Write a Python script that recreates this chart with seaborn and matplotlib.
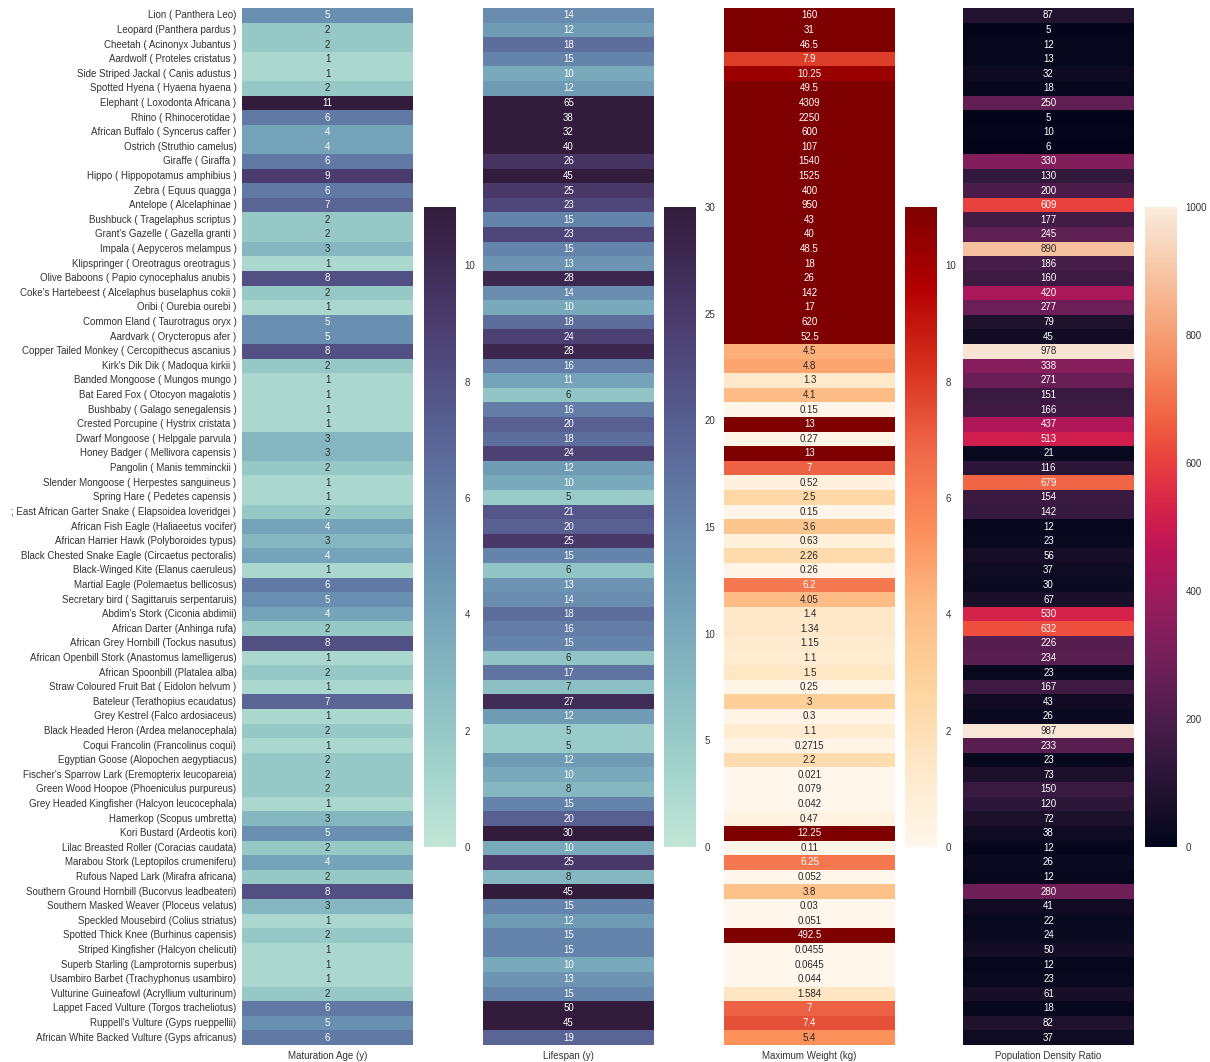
import numpy as np
import pandas as pd
import matplotlib
matplotlib.use("Agg")
import matplotlib.pyplot as plt
import seaborn as sns

species = [
    "Lion ( Panthera Leo)", "Leopard (Panthera pardus )", "Cheetah ( Acinonyx Jubantus )",
    "Aardwolf ( Proteles cristatus )", "Side Striped Jackal ( Canis adustus )",
    "Spotted Hyena ( Hyaena hyaena )", "Elephant ( Loxodonta Africana )", "Rhino ( Rhinocerotidae )",
    "African Buffalo ( Syncerus caffer )", "Ostrich (Struthio camelus)", "Giraffe ( Giraffa )",
    "Hippo ( Hippopotamus amphibius )", "Zebra ( Equus quagga )", "Antelope ( Alcelaphinae )",
    "Bushbuck ( Tragelaphus scriptus )", "Grant's Gazelle ( Gazella granti )",
    "Impala ( Aepyceros melampus )", "Klipspringer ( Oreotragus oreotragus )",
    "Olive Baboons ( Papio cynocephalus anubis )", "Coke's Hartebeest ( Alcelaphus buselaphus cokii )",
    "Oribi ( Ourebia ourebi )", "Common Eland ( Taurotragus oryx )", "Aardvark ( Orycteropus afer )",
    "Copper Tailed Monkey ( Cercopithecus ascanius )", "Kirk's Dik Dik ( Madoqua kirkii )",
    "Banded Mongoose ( Mungos mungo )", "Bat Eared Fox ( Otocyon magalotis )",
    "Bushbaby ( Galago senegalensis )", "Crested Porcupine ( Hystrix cristata )",
    "Dwarf Mongoose ( Helpgale parvula )", "Honey Badger ( Mellivora capensis )",
    "Pangolin ( Manis temminckii )", "Slender Mongoose ( Herpestes sanguineus )",
    "Spring Hare ( Pedetes capensis )", "; East African Garter Snake ( Elapsoidea loveridgei )",
    "African Fish Eagle (Haliaeetus vocifer)", "African Harrier Hawk (Polyboroides typus)",
    "Black Chested Snake Eagle (Circaetus pectoralis)", "Black-Winged Kite (Elanus caeruleus)",
    "Martial Eagle (Polemaetus bellicosus)", "Secretary bird ( Sagittaruis serpentaruis)",
    "Abdim's Stork (Ciconia abdimii)", "African Darter (Anhinga rufa)",
    "African Grey Hornbill (Tockus nasutus)", "African Openbill Stork (Anastomus lamelligerus)",
    "African Spoonbill (Platalea alba)", "Straw Coloured Fruit Bat ( Eidolon helvum )",
    "Bateleur (Terathopius ecaudatus)", "Grey Kestrel (Falco ardosiaceus)",
    "Black Headed Heron (Ardea melanocephala)", "Coqui Francolin (Francolinus coqui)",
    "Egyptian Goose (Alopochen aegyptiacus)", "Fischer's Sparrow Lark (Eremopterix leucopareia)",
    "Green Wood Hoopoe (Phoeniculus purpureus)", "Grey Headed Kingfisher (Halcyon leucocephala)",
    "Hamerkop (Scopus umbretta)", "Kori Bustard (Ardeotis kori)",
    "Lilac Breasted Roller (Coracias caudata)", "Marabou Stork (Leptopilos crumeniferu)",
    "Rufous Naped Lark (Mirafra africana)", "Southern Ground Hornbill (Bucorvus leadbeateri)",
    "Southern Masked Weaver (Ploceus velatus)", "Speckled Mousebird (Colius striatus)",
    "Spotted Thick Knee (Burhinus capensis)", "Striped Kingfisher (Halcyon chelicuti)",
    "Superb Starling (Lamprotornis superbus)", "Usambiro Barbet (Trachyphonus usambiro)",
    "Vulturine Guineafowl (Acryllium vulturinum)", "Lappet Faced Vulture (Torgos tracheliotus)",
    "Ruppell's Vulture (Gyps rueppellii)", "African White Backed Vulture (Gyps africanus)",
]

maturation_age = [5, 2, 2, 1, 1, 2, 11, 6, 4, 4, 6, 9, 6, 7, 2, 2, 3, 1, 8, 2, 1, 5, 5, 8, 2,
                  1, 1, 1, 1, 3, 3, 2, 1, 1, 2, 4, 3, 4, 1, 6, 5, 4, 2, 8, 1, 2, 1, 7, 1, 2,
                  1, 2, 2, 2, 1, 3, 5, 2, 4, 2, 8, 3, 1, 2, 1, 1, 1, 2, 6, 5, 6]

lifespan = [14, 12, 18, 15, 10, 12, 65, 38, 32, 40, 26, 45, 25, 23, 15, 23, 15, 13, 28, 14, 10,
            18, 24, 28, 16, 11, 6, 16, 20, 18, 24, 12, 10, 5, 21, 20, 25, 15, 6, 13, 14, 18, 16,
            15, 6, 17, 7, 27, 12, 5, 5, 12, 10, 8, 15, 20, 30, 10, 25, 8, 45, 15, 12, 15, 15, 10,
            13, 15, 50, 45, 19]

max_weight = [160, 31, 46.5, 7.9, 10.25, 49.5, 4309, 2250, 600, 107, 1540, 1525, 400, 950, 43,
              40, 48.5, 18, 26, 142, 17, 620, 52.5, 4.5, 4.8, 1.3, 4.1, 0.15, 13, 0.27, 13, 7,
              0.52, 2.5, 0.15, 3.6, 0.63, 2.26, 0.26, 6.2, 4.05, 1.4, 1.34, 1.15, 1.1, 1.5, 0.25,
              3, 0.3, 1.1, 0.2715, 2.2, 0.021, 0.079, 0.042, 0.47, 12.25, 0.11, 6.25, 0.052, 3.8,
              0.03, 0.051, 492.5, 0.0455, 0.0645, 0.044, 1.584, 7, 7.4, 5.4]

population_density = [87, 5, 12, 13, 32, 18, 250, 5, 10, 6, 330, 130, 200, 609, 177, 245, 890,
                      186, 160, 420, 277, 79, 45, 978, 338, 271, 151, 166, 437, 513, 21, 116, 679,
                      154, 142, 12, 23, 56, 37, 30, 67, 530, 632, 226, 234, 23, 167, 43, 26, 987,
                      233, 23, 73, 150, 120, 72, 38, 12, 26, 12, 280, 41, 22, 24, 50, 12, 23, 61,
                      18, 82, 37]

columns = ["Maturation Age (y)", "Lifespan (y)", "Maximum Weight (kg)", "Population Density Ratio"]
series = [maturation_age, lifespan, max_weight, population_density]
ranges = [(0, 11), (0, 30), (0, 11), (0, 1000)]

sns.set_theme(style="white")
plt.rcParams["font.family"] = ["Liberation Sans", "DejaVu Sans"]
plt.rcParams["text.color"] = "#333333"
plt.rcParams["xtick.color"] = "#333333"
plt.rcParams["ytick.color"] = "#333333"

cube = sns.cubehelix_palette(start=.5, rot=-.5, as_cmap=True)
cmaps = [cube, cube, "OrRd", "rocket"]

W, H = 1210, 1062
fig = plt.figure(figsize=(W / 100, H / 100), dpi=100)

ax_lefts = [242, 483, 724, 963]
cb_lefts = [424, 664, 905, 1145]
ax_w = 171
cb_w = 32
top, bottom = 8, 1045
cb_top, cb_bottom = 207, 847

for i, (col, vals, (vmin, vmax), cmap) in enumerate(zip(columns, series, ranges, cmaps)):
    df = pd.DataFrame({col: vals}, index=species)
    ax = fig.add_axes([ax_lefts[i] / W, (H - bottom) / H, ax_w / W, (bottom - top) / H])
    cax = fig.add_axes([cb_lefts[i] / W, (H - cb_bottom) / H, cb_w / W, (cb_bottom - cb_top) / H])
    sns.heatmap(df, ax=ax, cbar_ax=cax, cmap=cmap, vmin=vmin, vmax=vmax,
                annot=True, fmt="g", annot_kws={"size": 7},
                yticklabels=(i == 0))
    ax.tick_params(axis="both", length=0, labelsize=7, pad=4)
    if i == 0:
        ax.set_yticklabels(species, fontsize=7, rotation=0)
    ax.set_ylabel("")
    cax.tick_params(length=0, labelsize=7, pad=6)

fig.savefig("out.png", dpi=100)
